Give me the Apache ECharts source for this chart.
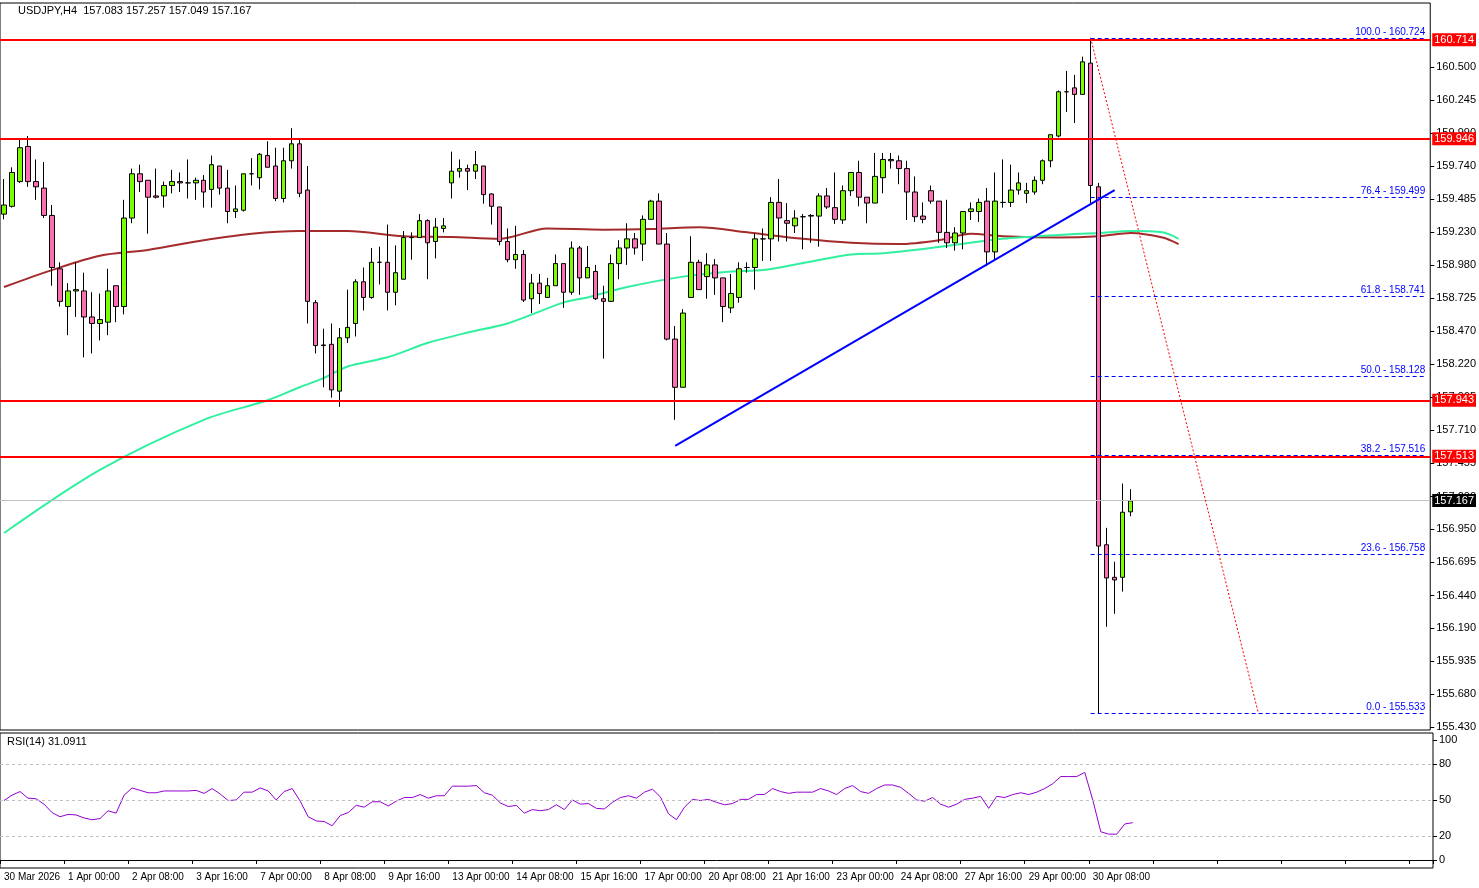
<!DOCTYPE html>
<html>
<head>
<meta charset="utf-8">
<title>USDJPY,H4</title>
<script src="https://cdn.jsdelivr.net/npm/echarts@6.0.0/dist/echarts.min.js"></script>
<style>
  html, body { margin: 0; padding: 0; background: #fff; }
  #main { width: 1479px; height: 888px; }
</style>
</head>
<body>
<div id="main"></div>
<script type="text/javascript">
// H4 candles, [open, close, low, high]
var candles = [
  [159.37,159.44,159.33,159.64],[159.43,159.69,159.42,159.73],[159.62,159.88,159.61,159.94],[159.89,159.62,159.58,159.97],
  [159.62,159.58,159.48,159.79],[159.57,159.36,159.34,159.77],[159.36,158.96,158.82,159.44],[158.95,158.70,158.66,159.00],
  [158.66,158.78,158.44,158.84],[158.78,158.79,158.58,159.00],[158.78,158.58,158.27,158.92],[158.58,158.53,158.30,158.77],
  [158.53,158.56,158.40,158.76],[158.54,158.78,158.44,158.95],[158.82,158.66,158.54,158.82],[158.66,159.34,158.60,159.48],
  [159.34,159.68,159.30,159.72],[159.68,159.62,159.54,159.75],[159.63,159.50,159.22,159.63],[159.51,159.50,159.49,159.72],
  [159.51,159.59,159.42,159.62],[159.59,159.62,159.53,159.71],[159.62,159.61,159.54,159.69],[159.61,159.61,159.49,159.79],
  [159.61,159.63,159.48,159.65],[159.63,159.54,159.42,159.67],[159.56,159.75,159.42,159.82],[159.74,159.57,159.52,159.74],
  [159.57,159.39,159.30,159.71],[159.39,159.41,159.34,159.59],[159.40,159.68,159.39,159.68],[159.68,159.68,159.59,159.80],
  [159.65,159.83,159.56,159.84],[159.82,159.73,159.73,159.93],[159.74,159.49,159.47,159.88],[159.49,159.78,159.46,159.88],
  [159.78,159.91,159.72,160.03],[159.91,159.53,159.50,159.94],[159.555,158.70,158.53,159.74],[158.69,158.36,158.30,158.71],
  [158.365,158.36,158.04,158.49],[158.37,158.02,157.96,158.53],[158.01,158.42,157.89,158.495],[158.42,158.50,158.38,158.79],
  [158.53,158.85,158.43,158.87],[158.85,158.73,158.63,158.96],[158.73,159.00,158.72,159.11],[159.00,159.00,158.83,159.12],
  [159.00,158.77,158.63,159.29],[158.77,158.92,158.67,159.13],[158.87,159.19,158.87,159.24],[159.19,159.19,159.02,159.23],
  [159.19,159.32,159.19,159.37],[159.32,159.15,158.87,159.33],[159.16,159.27,159.03,159.34],[159.26,159.28,159.23,159.34],
  [159.61,159.70,159.49,159.85],[159.70,159.72,159.65,159.79],[159.72,159.70,159.555,159.75],[159.70,159.75,159.64,159.855],
  [159.74,159.52,159.45,159.74],[159.525,159.43,159.29,159.53],[159.425,159.16,159.13,159.425],[159.16,159.02,159.00,159.26],
  [159.02,159.06,158.95,159.28],[159.06,158.71,158.695,159.095],[158.72,158.84,158.61,158.91],[158.84,158.76,158.68,158.91],
  [158.73,158.82,158.73,158.88],[158.82,158.99,158.82,159.06],[158.99,158.77,158.65,158.99],[158.77,159.11,158.75,159.16],
  [159.11,158.88,158.75,159.125],[158.88,158.96,158.88,159.125],[158.93,158.72,158.71,158.98],[158.72,158.70,158.26,158.82],
  [158.70,158.99,158.695,159.06],[158.99,159.11,158.87,159.17],[159.11,159.18,158.98,159.30],[159.18,159.11,159.06,159.225],
  [159.14,159.33,159.01,159.36],[159.33,159.47,159.33,159.48],[159.47,159.14,159.14,159.53],[159.14,158.41,158.40,159.225],
  [158.41,158.04,157.79,158.51],[158.04,158.61,158.04,158.64],[158.73,159.00,158.73,159.20],[159.00,158.79,158.79,159.02],
  [158.89,158.98,158.72,159.07],[158.98,158.88,158.75,159.025],[158.88,158.66,158.54,158.88],[158.65,158.76,158.61,158.91],
  [158.73,158.95,158.69,159.00],[158.96,158.96,158.92,159.00],[158.96,159.18,158.79,159.22],[159.18,159.18,159.01,159.26],
  [159.18,159.46,159.01,159.50],[159.46,159.34,159.16,159.64],[159.32,159.30,159.16,159.455],[159.28,159.34,159.225,159.40],
  [159.35,159.35,159.10,159.37],[159.355,159.36,159.15,159.37],[159.355,159.51,159.12,159.53],[159.51,159.425,159.41,159.57],
  [159.42,159.33,159.295,159.69],[159.325,159.55,159.295,159.59],[159.55,159.69,159.51,159.69],[159.69,159.50,159.43,159.78],
  [159.50,159.455,159.30,159.50],[159.455,159.66,159.455,159.84],[159.65,159.79,159.53,159.84],[159.79,159.78,159.72,159.84],
  [159.78,159.72,159.60,159.82],[159.72,159.54,159.325,159.78],[159.54,159.35,159.31,159.66],[159.355,159.33,159.30,159.46],
  [159.55,159.47,159.45,159.59],[159.47,159.23,159.15,159.47],[159.23,159.15,159.11,159.48],[159.15,159.225,159.09,159.27],
  [159.225,159.39,159.10,159.39],[159.39,159.41,159.325,159.46],[159.39,159.46,159.31,159.49],[159.47,159.08,158.97,159.57],
  [159.08,159.47,159.025,159.69],[159.46,159.46,159.42,159.79],[159.46,159.555,159.425,159.75],[159.555,159.61,159.52,159.69],
  [159.53,159.55,159.455,159.61],[159.54,159.63,159.52,159.66],[159.63,159.78,159.60,159.79],[159.78,159.98,159.73,159.98],
  [159.97,160.31,159.96,160.32],[160.31,160.31,160.155,160.47],[160.34,160.29,160.07,160.44],[160.29,160.54,160.29,160.58],
  [160.53,159.59,159.455,160.724],[159.58,156.82,155.533,159.61],[156.83,156.575,156.20,156.96],[156.58,156.56,156.30,156.70],
  [156.58,157.08,156.47,157.30],[157.083,157.167,157.049,157.257]
];
var rsi = [
  49.5,54,57,51.5,51,46.5,39.5,36,38,37.5,35,33.5,34.5,41,39,54,60,58,56,56,
  57.5,57.5,57.5,57.5,58,55.5,59.5,55,49.5,50,56.5,56.5,60,57.5,50,57,59.5,49,36,32.5,
  32,28.5,37,39.5,45.5,44,48.5,48.5,45,49,52,52,54.5,51.5,53.5,53.5,61.5,61.5,61.5,62,
  56,54,47.5,44.5,45.5,39,42,41,42,46,42,50,46.5,47,43,42.5,48,52,53.5,51.5,
  56.5,59,52.5,38.5,33.5,44,50.5,49.5,50.5,48,46,47,50.5,50.5,54.5,54.5,59.5,57,55.5,56.5,
  56.5,56.5,59.5,57.5,54.5,59.5,62,57,55.5,59.5,62.5,62.5,60.5,55.5,50,49,52,46.5,44,46.5,
  50.5,51.5,53,43,53,52,54.5,56,54.5,56.5,59.5,63.5,69.5,69.5,69.5,73,50,23.5,21.5,21.5,
  30,31.0911
];
// moving averages sampled along the chart, [candle index, price]
var maSlow = [[0,158.81],[6,158.94],[12,159.05],[18,159.095],[25,159.17],[31,159.22],[37,159.24],[43,159.24],
  [50,159.20],[56,159.195],[62,159.18],[68,159.26],[75,159.25],[81,159.255],[87,159.27],[93,159.23],[100,159.18],
  [106,159.15],[112,159.14],[117,159.17],[121,159.22],[125,159.20],[132,159.19],[137,159.20],[141,159.225],
  [145,159.19],[147,159.14]];
var maFast = [[0,156.92],[12,157.405],[25,157.79],[33,157.94],[37,158.04],[40,158.11],[43,158.20],[48,158.27],
  [53,158.38],[58,158.46],[63,158.53],[70,158.69],[73,158.73],[78,158.81],[85,158.89],[91,158.93],[95,158.94],
  [100,158.995],[106,159.06],[110,159.07],[116,159.11],[125,159.18],[132,159.21],[137,159.225],[141,159.24],
  [145,159.23],[147,159.18]];
var timeLabels = ['30 Mar 2026','1 Apr 00:00','2 Apr 08:00','3 Apr 16:00','7 Apr 00:00','8 Apr 08:00','9 Apr 16:00',
  '13 Apr 00:00','14 Apr 08:00','15 Apr 16:00','17 Apr 00:00','20 Apr 08:00','21 Apr 16:00','23 Apr 00:00',
  '24 Apr 08:00','27 Apr 16:00','29 Apr 00:00','30 Apr 08:00'];
var priceTicks = [160.5,160.245,159.99,159.74,159.485,159.23,158.98,158.725,158.47,158.22,157.965,157.71,157.455,
  157.2,156.95,156.695,156.44,156.19,155.935,155.68,155.43];
var levels = [160.714, 159.946, 157.943, 157.513];
var fibLevels = [['100.0',160.724],['76.4',159.499],['61.8',158.741],['50.0',158.128],['38.2',157.516],['23.6',156.758],['0.0',155.533]];
var lastPrice = 157.167;
var rsiTicks = [100, 80, 50, 20, 0];

var slots = 179;
var cats = [];
for (var i = 0; i < slots; i++) cats.push(i);

var myChart = echarts.init(document.getElementById('main'));
var font = 'Liberation Sans';

var levelLines = levels.map(function (v) {
  return { yAxis: v, lineStyle: { color: '#ff0000', width: 2, type: 'solid' },
    label: { show: true, position: 'end', formatter: v.toFixed(3), backgroundColor: '#ff0000', color: '#fff',
      padding: [1, 2], fontSize: 11, fontFamily: font, distance: 2 } };
});
levelLines.push({ yAxis: lastPrice, lineStyle: { color: '#c0c0c0', width: 1, type: 'solid' },
  label: { show: true, position: 'end', formatter: lastPrice.toFixed(3), backgroundColor: '#000', color: '#fff',
    padding: [1, 2], fontSize: 11, fontFamily: font, distance: 2 } });

var fibLines = fibLevels.map(function (f) {
  return [{ coord: [136, f[1]], lineStyle: { color: '#0000ff', width: 1, type: [4, 3] },
      label: { show: true, position: 'insideEndTop', formatter: f[0] + ' - ' + f[1].toFixed(3), color: '#0000ff',
        fontSize: 10, fontFamily: font, distance: 1 } },
    { coord: [178, f[1]] }];
});
fibLines.push([{ coord: [84, 157.59], lineStyle: { color: '#0000ff', width: 2, type: 'solid' }, label: { show: false } },
  { coord: [139, 159.555] }]);
fibLines.push([{ coord: [136, 160.724], lineStyle: { color: '#ff0000', width: 1, type: [2, 2] }, label: { show: false } },
  { coord: [157, 155.533] }]);

var option = {
  animation: false,
  backgroundColor: '#fff',
  textStyle: { fontFamily: font },
  graphic: [
    { type: 'text', left: 18, top: 5, style: { text: 'USDJPY,H4  157.083 157.257 157.049 157.167', fontSize: 11, fontFamily: font, fill: '#000' } },
    { type: 'text', left: 7, top: 736, style: { text: 'RSI(14) 31.0911', fontSize: 11, fontFamily: font, fill: '#000' } }
  ],
  grid: [
    { left: 0, right: 46, top: 3, height: 727, show: true, borderColor: '#000', borderWidth: 1 },
    { left: 0, right: 46, top: 733, height: 135, show: true, borderColor: '#000', borderWidth: 1 }
  ],
  xAxis: [
    { type: 'category', gridIndex: 0, data: cats, boundaryGap: true,
      axisLine: { show: false }, axisTick: { show: false }, axisLabel: { show: false }, splitLine: { show: false } },
    { type: 'category', gridIndex: 1, data: cats, boundaryGap: true, position: 'bottom',
      axisLine: { show: true, lineStyle: { color: '#000' } },
      axisTick: { show: true, interval: 7, length: 4, lineStyle: { color: '#000' } },
      axisLabel: { show: true, interval: 7, align: 'left', margin: 4, fontSize: 10, color: '#000', fontFamily: font,
        formatter: function (v, idx) { return timeLabels[idx / 8] || ''; } },
      splitLine: { show: false } }
  ],
  yAxis: [
    { type: 'value', gridIndex: 0, position: 'right', min: 155.407, max: 160.992,
      axisLine: { show: false }, splitLine: { show: false },
      axisTick: { show: true, length: 4, lineStyle: { color: '#000' }, customValues: priceTicks },
      axisLabel: { show: true, customValues: priceTicks, fontSize: 11, color: '#000', fontFamily: font, margin: 6,
        formatter: function (v) { return v.toFixed(3); } } },
    { type: 'value', gridIndex: 1, position: 'right', min: -6.7, max: 105.8,
      axisLine: { show: false }, splitLine: { show: false },
      axisTick: { show: true, length: 4, lineStyle: { color: '#000' }, customValues: rsiTicks },
      axisLabel: { show: true, customValues: rsiTicks, fontSize: 11, color: '#000', fontFamily: font, margin: 6 } }
  ],
  series: [
    { name: 'MA slow', type: 'line', xAxisIndex: 0, yAxisIndex: 0, data: maSlow, smooth: 0.3, symbol: 'none',
      lineStyle: { color: '#a52a2a', width: 2 }, z: 2 },
    { name: 'MA fast', type: 'line', xAxisIndex: 0, yAxisIndex: 0, data: maFast, smooth: 0.3, symbol: 'none',
      lineStyle: { color: '#30f0a0', width: 2 }, z: 2 },
    { name: 'USDJPY', type: 'candlestick', xAxisIndex: 0, yAxisIndex: 0, data: candles, barWidth: 5, z: 3,
      itemStyle: { color: '#7cfc00', color0: '#ff6eb4', borderColor: '#000', borderColor0: '#000', borderWidth: 1 },
      markLine: { silent: true, symbol: ['none', 'none'], animation: false, data: levelLines.concat(fibLines) } },
    { name: 'RSI', type: 'line', xAxisIndex: 1, yAxisIndex: 1, data: rsi, symbol: 'none',
      lineStyle: { color: '#9400d3', width: 1 },
      markLine: { silent: true, symbol: ['none', 'none'], animation: false, label: { show: false },
        lineStyle: { color: '#c0c0c0', type: [3, 3], width: 1 },
        data: [{ yAxis: 80 }, { yAxis: 50 }, { yAxis: 20 }] } }
  ]
};
myChart.setOption(option);
</script>
</body>
</html>
